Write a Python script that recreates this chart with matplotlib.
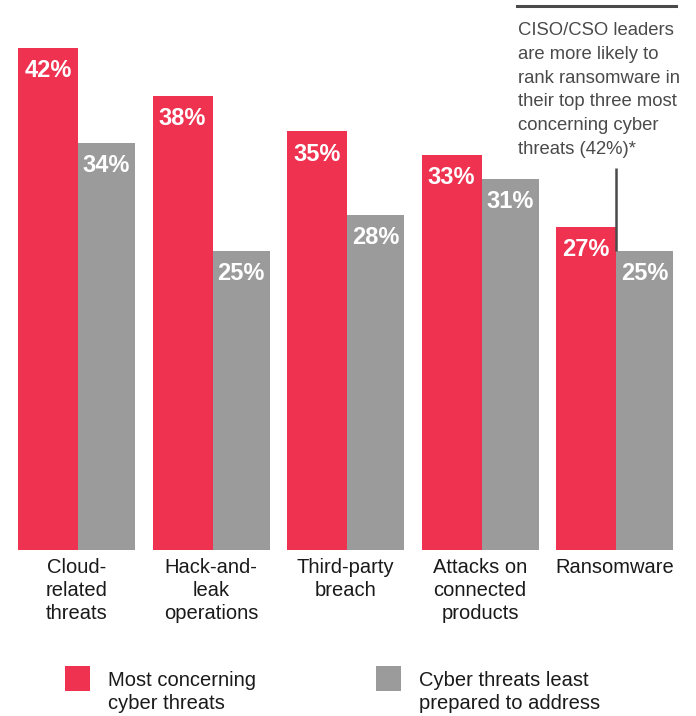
import matplotlib
matplotlib.use("Agg")
import matplotlib.pyplot as plt
from matplotlib.patches import Rectangle

plt.rcParams['font.family'] = ['Liberation Sans', 'DejaVu Sans']

categories = ["Cloud-\nrelated\nthreats", "Hack-and-\nleak\noperations", "Third-party\nbreach",
              "Attacks on\nconnected\nproducts", "Ransomware"]
most_concerning = [42, 38, 35, 33, 27]
least_prepared = [34, 25, 28, 31, 25]
series_names = ["Most concerning\ncyber threats", "Cyber threats least\nprepared to address"]
note = ("CISO/CSO leaders\nare more likely to\nrank ransomware in\n"
        "their top three most\nconcerning cyber\nthreats (42%)*")

RED = "#EE3250"
GRAY = "#9B9B9B"
DARK = "#4a4a4a"

W, H = 696, 716
fig = plt.figure(figsize=(W / 100, H / 100), dpi=100)
base_px = 550
ax = fig.add_axes([0, (H - base_px) / H, 1, base_px / H])

pitch = 134.5
x0 = 18.0
red_w = 60 / pitch
gray_w = 57 / pitch
xs = list(range(len(categories)))

ax.bar(xs, most_concerning, width=red_w, align='edge', color=RED, linewidth=0)
gx = [x + red_w for x in xs]
ax.bar(gx, least_prepared, width=gray_w, align='edge', color=GRAY, linewidth=0)

ax.set_xlim(-x0 / pitch, (W - x0) / pitch)
ax.set_ylim(0, base_px / 11.96)
ax.axis('off')

# value labels inside bars
for x, v in zip(xs, most_concerning):
    ax.annotate(f"{v}%", (x + red_w / 2, v), xytext=(0, -8), textcoords='offset points',
                ha='center', va='top', color='white', fontsize=17, fontweight='bold')
for x, v in zip(gx, least_prepared):
    ax.annotate(f"{v}%", (x + gray_w / 2, v), xytext=(0, -8), textcoords='offset points',
                ha='center', va='top', color='white', fontsize=17, fontweight='bold')

# category labels below
for x, lab in zip(xs, categories):
    ax.annotate(lab, (x + (red_w + gray_w) / 2, 0), xytext=(0, -6), textcoords='offset points',
                ha='center', va='top', color='#1a1a1a', fontsize=14.5, linespacing=1.27,
                annotation_clip=False)

# callout for ransomware
rx = xs[-1] + red_w
ax.plot([rx, rx], [least_prepared[-1], 31.9], color=DARK, lw=1.8, solid_capstyle='butt')
fig.add_artist(plt.Line2D([517 / W, 676 / W], [1 - 5.5 / H, 1 - 5.5 / H], color=DARK, lw=2.2))
fig.text(518 / W, 1 - 22 / H, note, ha='left', va='top', color=DARK, fontsize=13.3, linespacing=1.52)

# legend
for (sx, tx), name, col in zip([(65, 108), (376, 419)], series_names, [RED, GRAY]):
    fig.add_artist(Rectangle((sx / W, 1 - 691 / H), 25 / W, 25 / H, transform=fig.transFigure,
                             color=col, linewidth=0))
    fig.text(tx / W, 1 - 671 / H, name, ha='left', va='top', color='#1a1a1a', fontsize=14.5,
             linespacing=1.27)

fig.savefig("out.png", dpi=100)
